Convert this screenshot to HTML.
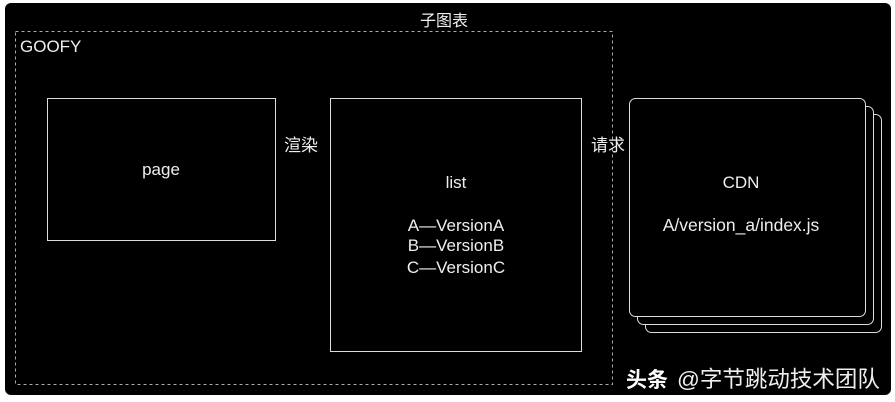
<!DOCTYPE html>
<html><head><meta charset="utf-8"><style>
html,body{margin:0;padding:0;background:#fff;width:895px;height:402px;overflow:hidden}
svg{display:block}
text{font-family:"Liberation Sans","Noto Sans CJK SC",sans-serif;fill:#eee}
</style></head><body>
<svg width="895" height="402" viewBox="0 0 895 402">
<rect x="5" y="3" width="886" height="392" rx="6" fill="#000"/>
<rect x="15.5" y="31.5" width="597" height="353" fill="none" stroke="#aaa" stroke-dasharray="3,3"/>
<text x="420" y="26" font-size="16">子图表</text>
<text x="20" y="52" font-size="17">GOOFY</text>
<rect x="47.5" y="98.5" width="228" height="142" fill="#000" stroke="#ddd"/>
<text x="161" y="175" font-size="17" text-anchor="middle">page</text>
<text x="284" y="151" font-size="17">渲染</text>
<rect x="330.5" y="98.5" width="251" height="253" fill="#000" stroke="#ddd"/>
<text x="456" y="188" font-size="17" text-anchor="middle">list</text>
<text x="456" y="231" font-size="17" text-anchor="middle">A—VersionA</text>
<text x="456" y="251" font-size="17" text-anchor="middle">B—VersionB</text>
<text x="456" y="273" font-size="17" text-anchor="middle">C—VersionC</text>
<text x="591" y="151" font-size="17">请求</text>
<rect x="645.5" y="114.5" width="236" height="218" rx="6" fill="#000" stroke="#ddd"/>
<rect x="637.5" y="106.5" width="236" height="218" rx="6" fill="#000" stroke="#ddd"/>
<rect x="629.5" y="98.5" width="236" height="218" rx="6" fill="#000" stroke="#ddd"/>
<text x="741" y="188" font-size="17" text-anchor="middle">CDN</text>
<text x="741" y="231" font-size="17.5" text-anchor="middle">A/version_a/index.js</text>
<text x="626" y="387" font-size="21" font-weight="bold" style="fill:#fff">头条</text>
<text x="677" y="387" font-size="22.5">@字节跳动技术团队</text>
</svg>
</body></html>
